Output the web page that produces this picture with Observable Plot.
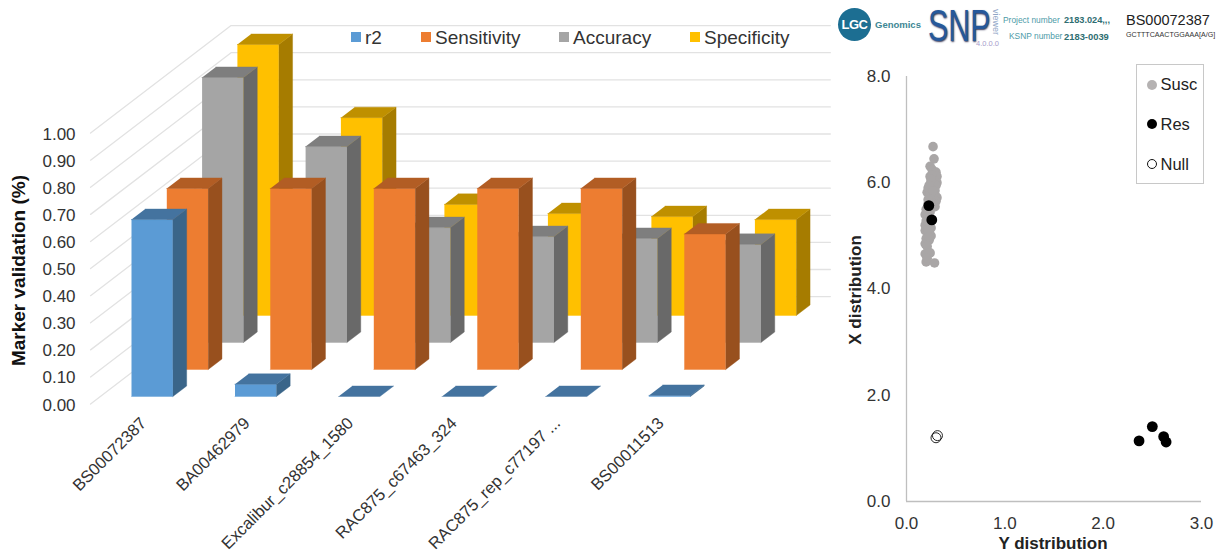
<!DOCTYPE html>
<html><head><meta charset="utf-8">
<script src="https://cdn.jsdelivr.net/npm/d3@7"></script>
<script src="https://cdn.jsdelivr.net/npm/@observablehq/plot@0.6"></script>
<style>
html,body{margin:0;padding:0;background:#fff;font-family:"Liberation Sans",Arial,sans-serif;}
#page{position:relative;width:1231px;height:554px;overflow:hidden;}
#left,#right{position:absolute;top:0;}
#left{left:0;} #right{left:840px;}
.abs{position:absolute;white-space:nowrap;line-height:1;}
.sw{position:absolute;width:10px;height:10px;}
#scatterLegend{position:absolute;left:1136px;top:64px;width:66px;height:118px;border:1.5px solid #c8c8c8;background:#fff;}
.dot{position:absolute;left:10px;width:10px;height:10px;border-radius:50%;box-sizing:border-box;}
</style></head>
<body><div id="page"><div id="left"></div><div id="right"></div></div>
<script>
const categories = ["BS00072387","BA00462979","Excalibur_c28854_1580","RAC875_c67463_324","RAC875_rep_c77197 ...","BS00011513"];
const seriesNames = ["r2","Sensitivity","Accuracy","Specificity"];
const r2 = [0.653,0.045,0,0,0,0.004];
const sensitivity = [0.668,0.668,0.668,0.668,0.668,0.50];
const accuracy = [0.978,0.723,0.424,0.391,0.384,0.362];
const specificity = [1.0,0.73,0.41,0.376,0.365,0.354];
const seriesValues = [r2,sensitivity,accuracy,specificity];
const frontColors = ["#5B9BD5","#ED7D31","#A5A5A5","#FFC000"];
const sideColors = ["#3A6589","#98501E","#696969","#A67C00"];
const topColors = ["#44739F","#B25D24","#7E7E7E","#BF9000"];
const yTicks3d = [0,0.1,0.2,0.3,0.4,0.5,0.6,0.7,0.8,0.9,1.0];

const suscX = [.27,.28,.24,.26,.30,.24,.28,.31,.31,.25,.27,.30,.22,.25,.29,.21,.24,.27,.30,.31,.30,.24,.27,.22,.26,.29,.20,.24,.19,.23,.26,.20,.19,.22,.25,.19,.22,.25,.20,.23,.19,.21,.19,.24,.20,.285,.21,.26,.25,.23,.24,.27,.22,.21,.24,.22,.23];
const suscY = [6.68,6.45,6.31,6.25,6.20,6.12,6.10,6.12,6.00,6.02,5.98,5.95,5.90,5.88,5.85,5.82,5.80,5.78,5.74,5.72,5.65,5.70,5.62,5.60,5.55,5.55,5.50,5.45,5.40,5.35,5.30,5.28,5.20,5.20,5.15,5.10,5.05,5.00,4.95,4.92,4.85,4.80,4.66,4.68,4.51,4.49,4.58,6.15,6.06,5.95,5.76,5.85,5.68,5.42,5.25,5.12,4.98];
const resX = [.227,.257,2.365,2.50,2.615,2.64];
const resY = [5.57,5.30,1.14,1.41,1.22,1.12];
const nullX = [.315,.30];
const nullY = [1.24,1.20];

const FONT = "Liberation Sans";
// oblique projection of the 3D chart: each series steps back in depth
const W = 840, H = 554;
const unitX = 103.5, unitY = 271;
const stepX = 35.3 / unitX, stepY = 27 / unitY;
const px = (c, s) => c + s * stepX;
const py = (v, s) => v + s * stepY;
const barW = 0.4, barD = 0.39;
const wallLeft = -0.30, wallRight = 5.49, floorFront = -0.28, floorBack = 3.7;

const faces = [];
let id = 0;
for (let s = 3; s >= 0; --s) {
  seriesValues[s].forEach((v, c) => {
    const poly = (pts, color) => { id++; pts.forEach(([cc, ss, vv]) => faces.push({x: px(cc, ss), y: py(vv, ss), face: id, color})); };
    if (v > 0) {
      poly([[c,s,0],[c+barW,s,0],[c+barW,s,v],[c,s,v]], frontColors[s]);
      poly([[c+barW,s,0],[c+barW,s+barD,0],[c+barW,s+barD,v],[c+barW,s,v]], sideColors[s]);
    }
    poly([[c,s,v],[c+barW,s,v],[c+barW,s+barD,v],[c,s+barD,v]], topColors[s]);
  });
}
const grid = yTicks3d.flatMap((t) => [
  {x: px(wallLeft, floorFront), y: py(t, floorFront), t},
  {x: px(wallLeft, floorBack), y: py(t, floorBack), t},
  {x: px(wallRight, floorBack), y: py(t, floorBack), t}
]);

const left = Plot.plot({
  width: W, height: H, margin: 0,
  style: {background: "#fff", fontFamily: FONT},
  x: {domain: [-131 / unitX, (W - 131) / unitX], range: [0, W], axis: null},
  y: {domain: [(396 - H) / unitY, 396 / unitY], range: [H, 0], axis: null},
  color: {type: "identity"},
  marks: [
    Plot.line(grid, {x: "x", y: "y", z: "t", stroke: "#e2e2e2", strokeWidth: 1.3}),
    Plot.line(faces, {x: "x", y: "y", z: "face", fill: "color", stroke: "color", strokeWidth: 0.4}),
    Plot.text(yTicks3d, {x: () => px(wallLeft, floorFront), y: (t) => py(t, floorFront), text: (t) => t.toFixed(2), textAnchor: "end", dx: -15, dy: 1, fontSize: 17, fill: "#333"}),
    Plot.text(categories, {x: (d, i) => px(i, 0), y: () => 0, text: (d) => d, rotate: -45, textAnchor: "end", dx: 12, dy: 24, fontSize: 16.6, fill: "#333"}),
    Plot.text(["Marker validation (%)"], {frameAnchor: "left", text: (d) => d, rotate: -90, textAnchor: "middle", dx: 18, dy: -7, fontSize: 19, fontWeight: "bold", fill: "#111"})
  ]
});
document.getElementById("left").append(left);

const right = Plot.plot({
  width: 391, height: H, marginLeft: 66, marginRight: 30, marginTop: 76, marginBottom: 53,
  style: {background: "transparent", fontFamily: FONT},
  x: {domain: [0, 3]},
  y: {domain: [0, 8]},
  marks: [
    Plot.axisX({ticks: [0,1,2,3], tickFormat: ".1f", tickSize: 0, tickPadding: 15, fontSize: 17, label: null, color: "#333"}),
    Plot.axisY({ticks: [0,2,4,6,8], tickFormat: ".1f", tickSize: 0, tickPadding: 16, fontSize: 17, label: null, color: "#333"}),
    Plot.ruleX([0], {stroke: "#bfbfbf", strokeWidth: 1.3}),
    Plot.ruleY([0], {stroke: "#bfbfbf", strokeWidth: 1.3}),
    Plot.dot(suscX, {x: (d) => d, y: (d, i) => suscY[i], r: 4.8, fill: "#A9A6A6", stroke: "none"}),
    Plot.dot(resX, {x: (d) => d, y: (d, i) => resY[i], r: 5.4, fill: "#000", stroke: "none"}),
    Plot.dot(nullX, {x: (d) => d, y: (d, i) => nullY[i], r: 5, fill: "none", stroke: "#111", strokeWidth: 0.9}),
    Plot.text(["Y distribution"], {frameAnchor: "bottom", text: (d) => d, fontSize: 17, fontWeight: "bold", dy: 47, dx: -1, fill: "#222"}),
    Plot.text(["X distribution"], {frameAnchor: "left", text: (d) => d, rotate: -90, textAnchor: "middle", dx: -51, dy: 1, fontSize: 17, fontWeight: "bold", fill: "#222"})
  ]
});
document.getElementById("right").append(right);

// overlays: 3D legend, scatter legend, header
const page = document.getElementById("page");
function addText(txt, left, top, size, css = "") {
  const e = document.createElement("div");
  e.className = "abs"; e.textContent = txt;
  e.style.cssText = `left:${left}px;top:${top}px;font-size:${size}px;${css}`;
  page.append(e); return e;
}
const legendSw = [351, 421, 559, 690];
seriesNames.forEach((n, i) => {
  const s = document.createElement("div");
  s.className = "sw";
  s.style.cssText = `left:${legendSw[i]}px;top:32px;background:${frontColors[i]}`;
  page.append(s);
  addText(n, legendSw[i] + 14, 27.5, 19, "color:#333");
});

const box = document.createElement("div");
box.id = "scatterLegend";
box.innerHTML = `<div class="dot" style="top:15px;background:#B5B2B2"></div>
<div class="dot" style="top:54px;background:#000"></div>
<div class="dot" style="top:94px;border:1.2px solid #111;background:#fff"></div>`;
page.append(box);
addText("Susc", 1160.5, 75.5, 16.5, "color:#222");
addText("Res", 1160.5, 115.5, 16.5, "color:#222");
addText("Null", 1160.5, 155.5, 16.5, "color:#222");

const logo = document.createElement("div");
logo.className = "abs";
logo.style.cssText = "left:838px;top:8px;width:33px;height:33px;border-radius:50%;background:#1C6E92;color:#fff;font-weight:bold;font-size:13px;line-height:33px;text-align:center;letter-spacing:-0.5px";
logo.textContent = "LGC";
page.append(logo);
addText("Genomics", 875, 20, 9.5, "color:#3E8794;font-weight:bold");
addText("SNP", 928, 13.3, 44, "line-height:0.6;color:#26589A;text-shadow:1px 1px 2px #3b3b5a;transform-origin:0 0;transform:scaleX(0.69)");
addText("viewer", 1000, 9, 9, "color:#8FA5C6;transform-origin:0 0;transform:rotate(90deg)");
addText("4.0.0.0", 976, 40, 7.5, "color:#A69CCB");
addText("Project number", 1003, 16, 8.4, "color:#4D9BA8");
addText("KSNP number", 1009, 31.5, 8.4, "color:#4D9BA8");
addText("2183.024,,,", 1064, 15.5, 9.2, "color:#2F6E72;font-weight:bold");
addText("2183-0039", 1064, 31.5, 9.4, "color:#2F6E72;font-weight:bold");
addText("BS00072387", 1126, 12.5, 14.5, "color:#222");
addText("GCTTTCAACTGGAAA[A/G]", 1126, 31.5, 7.1, "color:#333;letter-spacing:0.01px");
</script>
</body></html>
